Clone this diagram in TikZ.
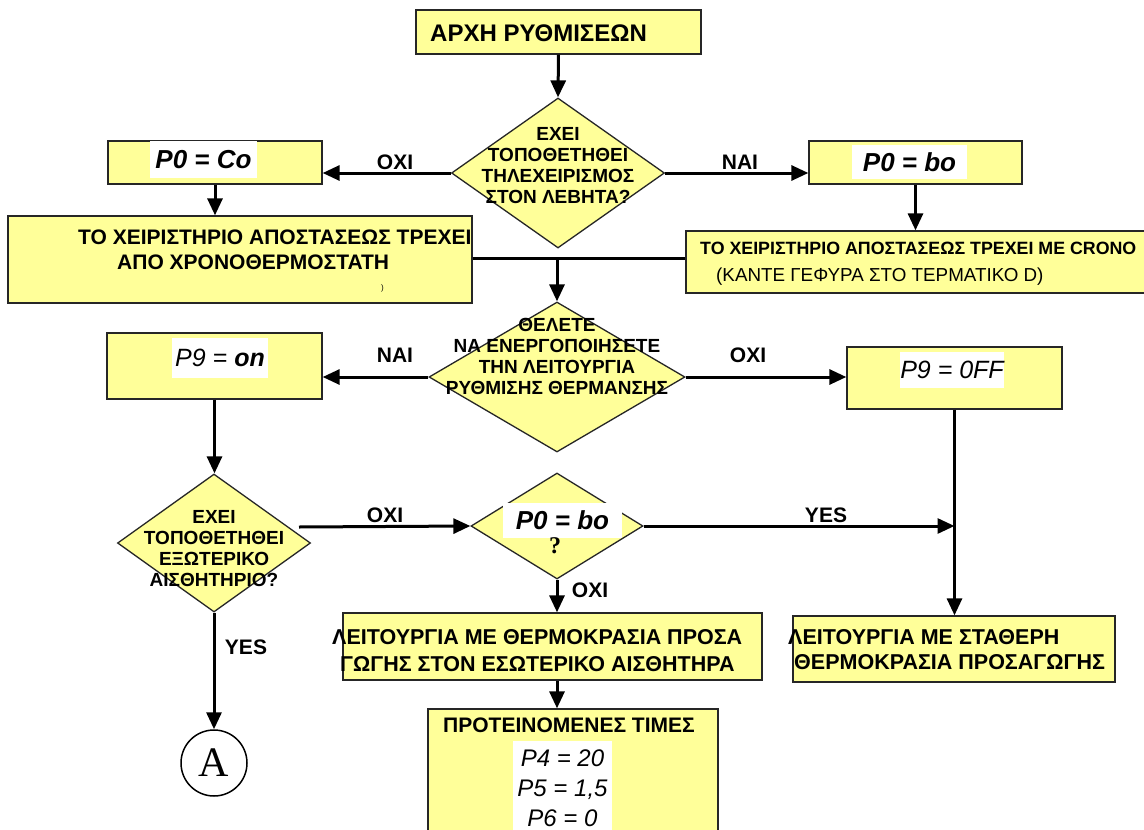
\documentclass[tikz,border=0pt]{standalone}
\usepackage{fontspec}
\setmainfont{Liberation Sans}
\newfontfamily\serifA{Liberation Serif}
\usetikzlibrary{shapes.geometric,arrows.meta}
\definecolor{yfill}{RGB}{255,255,153}
\newcommand{\fs}[2]{\fontsize{#1}{#2}\selectfont}
\begin{document}
\begin{tikzpicture}[x=1pt,y=-1pt,
  box/.style={draw=black!85, line width=1.3pt, fill=yfill, inner sep=0pt},
  dia/.style={diamond, draw=black!85, line width=1.3pt, fill=yfill, inner sep=0pt},
  disp/.style={fill=white, inner sep=0pt, font=\itshape},
  conn/.style={line width=3pt, -{Triangle[length=17pt,width=15pt]}},
  plainline/.style={line width=3pt},
  lbl/.style={font=\bfseries\fs{21}{24}},
  dtext/.style={align=center, font=\bfseries\fs{19}{21}},
  btext/.style={anchor=west, inner sep=0pt},
]
\useasboundingbox (0,0) rectangle (1144,830);
\clip (0,0) rectangle (1144,830);
\fill[white] (0,0) rectangle (1144,830);

% shapes
\node[box, minimum width=285pt, minimum height=44pt] (start) at (558.5,32) {};
\node[btext, font=\bfseries\fs{24}{28}] (startT) at (430,33) {ΑΡΧΗ ΡΥΘΜΙΣΕΩΝ};

\node[dia, minimum width=213pt, minimum height=150pt] (d1) at (558,173) {};
\node[dtext] (d1T) at (558,166) {ΕΧΕΙ\\ΤΟΠΟΘΕΤΗΘΕΙ\\ΤΗΛΕΧΕΙΡΙΣΜΟΣ\\ΣΤΟΝ ΛΕΒΗΤΑ?};

\node[box, minimum width=214pt, minimum height=43pt] (coBox) at (215,162.5) {};
\node[disp, minimum width=107pt, minimum height=37pt, font=\bfseries\itshape\fs{26}{28}] (coDisp) at (203.5,159.5) {P0 = Co};

\node[box, minimum width=213pt, minimum height=43pt] (boBox) at (915.5,162.5) {};
\node[disp, minimum width=115pt, minimum height=34pt, font=\bfseries\itshape\fs{26}{28}] (boDisp) at (909.5,162) {P0 = bo};

\node[box, minimum width=464pt, minimum height=87pt] (leftBig) at (240,259.5) {};
\node[btext, font=\bfseries\fs{21}{24}] (lb1) at (78,237) {ΤΟ ΧΕΙΡΙΣΤΗΡΙΟ ΑΠΟΣΤΑΣΕΩΣ ΤΡΕΧΕΙ};
\node[btext, font=\bfseries\fs{21}{24}] (lb2) at (117,262) {ΑΠΟ ΧΡΟΝΟΘΕΡΜΟΣΤΑΤΗ};
\node[btext, font=\fs{8}{9}] (lb3) at (381,288) {)};

\node[box, minimum width=474pt, minimum height=62pt] (rightBig) at (923,262) {};
\node[btext, font=\bfseries\fs{17.8}{20}] (rb1) at (700,248) {ΤΟ ΧΕΙΡΙΣΤΗΡΙΟ ΑΠΟΣΤΑΣΕΩΣ ΤΡΕΧΕΙ ΜΕ CRONO};
\node[btext, font=\fs{18.8}{21}] (rb2) at (716,277) {(ΚΑΝΤΕ ΓΕΦΥΡΑ ΣΤΟ ΤΕΡΜΑΤΙΚΟ D)};

\node[dia, minimum width=256pt, minimum height=150pt] (d2) at (557,377) {};
\node[dtext] (d2T) at (557,356) {ΘΕΛΕΤΕ\\ΝΑ ΕΝΕΡΓΟΠΟΙΗΣΕΤΕ\\ΤΗΝ ΛΕΙΤΟΥΡΓΙΑ\\ΡΥΘΜΙΣΗΣ ΘΕΡΜΑΝΣΗΣ};

\node[box, minimum width=215pt, minimum height=66pt] (onBox) at (214.5,366) {};
\node[disp, minimum width=96pt, minimum height=40pt, font=\itshape\fs{25}{28}] (onDisp) at (220,358) {P9 = \textbf{on}};

\node[box, minimum width=215pt, minimum height=62pt] (offBox) at (954.5,378) {};
\node[disp, minimum width=104pt, minimum height=36pt, font=\itshape\fs{25}{28}] (offDisp) at (952,370) {P9 = 0FF};

\node[dia, minimum width=193pt, minimum height=138pt] (d3) at (214,543) {};
\node[dtext] (d3T) at (214,549) {ΕΧΕΙ\\ΤΟΠΟΘΕΤΗΘΕΙ\\ΕΞΩΤΕΡΙΚΟ\\ΑΙΣΘΗΤΗΡΙΟ?};

\node[dia, minimum width=172pt, minimum height=106pt] (d4) at (557,526) {};
\node[disp, minimum width=119pt, minimum height=35pt, font=\bfseries\itshape\fs{26}{28}] (d4Disp) at (562.5,520.5) {P0 = bo};
\node[font=\serifA\bfseries\fs{24}{28}, inner sep=0pt] (d4Q) at (555,546) {?};

\node[box, minimum width=419pt, minimum height=67pt] (inBox) at (552.5,646.5) {};
\node[btext, font=\bfseries\fs{21.5}{25}] (in1) at (332,637) {ΛΕΙΤΟΥΡΓΙΑ ΜΕ ΘΕΡΜΟΚΡΑΣΙΑ ΠΡΟΣΑ};
\node[btext, font=\bfseries\fs{21.5}{25}] (in2) at (340,664) {ΓΩΓΗΣ ΣΤΟΝ ΕΣΩΤΕΡΙΚΟ ΑΙΣΘΗΤΗΡΑ};

\node[box, minimum width=322pt, minimum height=66pt] (fixBox) at (954,649) {};
\node[btext, font=\bfseries\fs{21.5}{25}] (fx1) at (788,637) {ΛΕΙΤΟΥΡΓΙΑ ΜΕ ΣΤΑΘΕΡΗ};
\node[btext, font=\bfseries\fs{21.5}{25}] (fx2) at (794,662) {ΘΕΡΜΟΚΡΑΣΙΑ ΠΡΟΣΑΓΩΓΗΣ};

\node[box, minimum width=290pt, minimum height=141pt] (valBox) at (573,779.5) {};
\node[btext, font=\bfseries\fs{21}{24}] (valT) at (443,725) {ΠΡΟΤΕΙΝΟΜΕΝΕΣ ΤΙΜΕΣ};
\node[disp, minimum width=99pt, minimum height=95pt, align=center, font=\itshape\fs{24}{30}] (valDisp) at (562.5,788) {P4 = 20\\P5 = 1,5\\P6 = 0};

\node[circle, draw, line width=1.5pt, minimum size=66pt, inner sep=0pt, font=\serifA\fs{42}{44}] (A) at (214,763) {A};

% connectors
\draw[conn] (start.south) -- (d1.north);
\draw[conn] (d1.west) -- (d1.west -| coBox.east);
\draw[conn] (d1.east) -- (d1.east -| boBox.west);
\draw[conn] (coBox.south) -- (coBox.south |- leftBig.north);
\draw[conn] (boBox.south) -- (boBox.south |- rightBig.north);
\coordinate (j) at (557,258);
\draw[plainline] (j -| leftBig.east) -- (j -| rightBig.west);
\draw[conn] (j) -- (d2.north);
\draw[conn] (d2.west) -- (d2.west -| onBox.east);
\draw[conn] (d2.east) -- (d2.east -| offBox.west);
\draw[conn] (onBox.south) -- (onBox.south |- d3.north);
\coordinate (d3e) at (299,527);
\draw[conn] (d3e) -- (d4.west);
\draw[conn] (d4.east) -- (d4.east -| offBox.south);
\draw[conn] (offBox.south) -- (offBox.south |- fixBox.north);
\draw[conn] (d4.south) -- (d4.south |- inBox.north);
\draw[conn] (d4.south |- inBox.south) -- (d4.south |- valBox.north);
\draw[conn] (d3.south) -- (A.north);

% labels
\node[lbl] (l1) at (395,162) {ΟΧΙ};
\node[lbl] (l2) at (740,162) {ΝΑΙ};
\node[lbl] (l3) at (395,355) {ΝΑΙ};
\node[lbl] (l4) at (748,355) {ΟΧΙ};
\node[lbl] (l5) at (385,515) {ΟΧΙ};
\node[lbl] (l6) at (826,515) {YES};
\node[lbl] (l7) at (590,590) {ΟΧΙ};
\node[lbl] (l8) at (246,647) {YES};
\end{tikzpicture}
\end{document}
